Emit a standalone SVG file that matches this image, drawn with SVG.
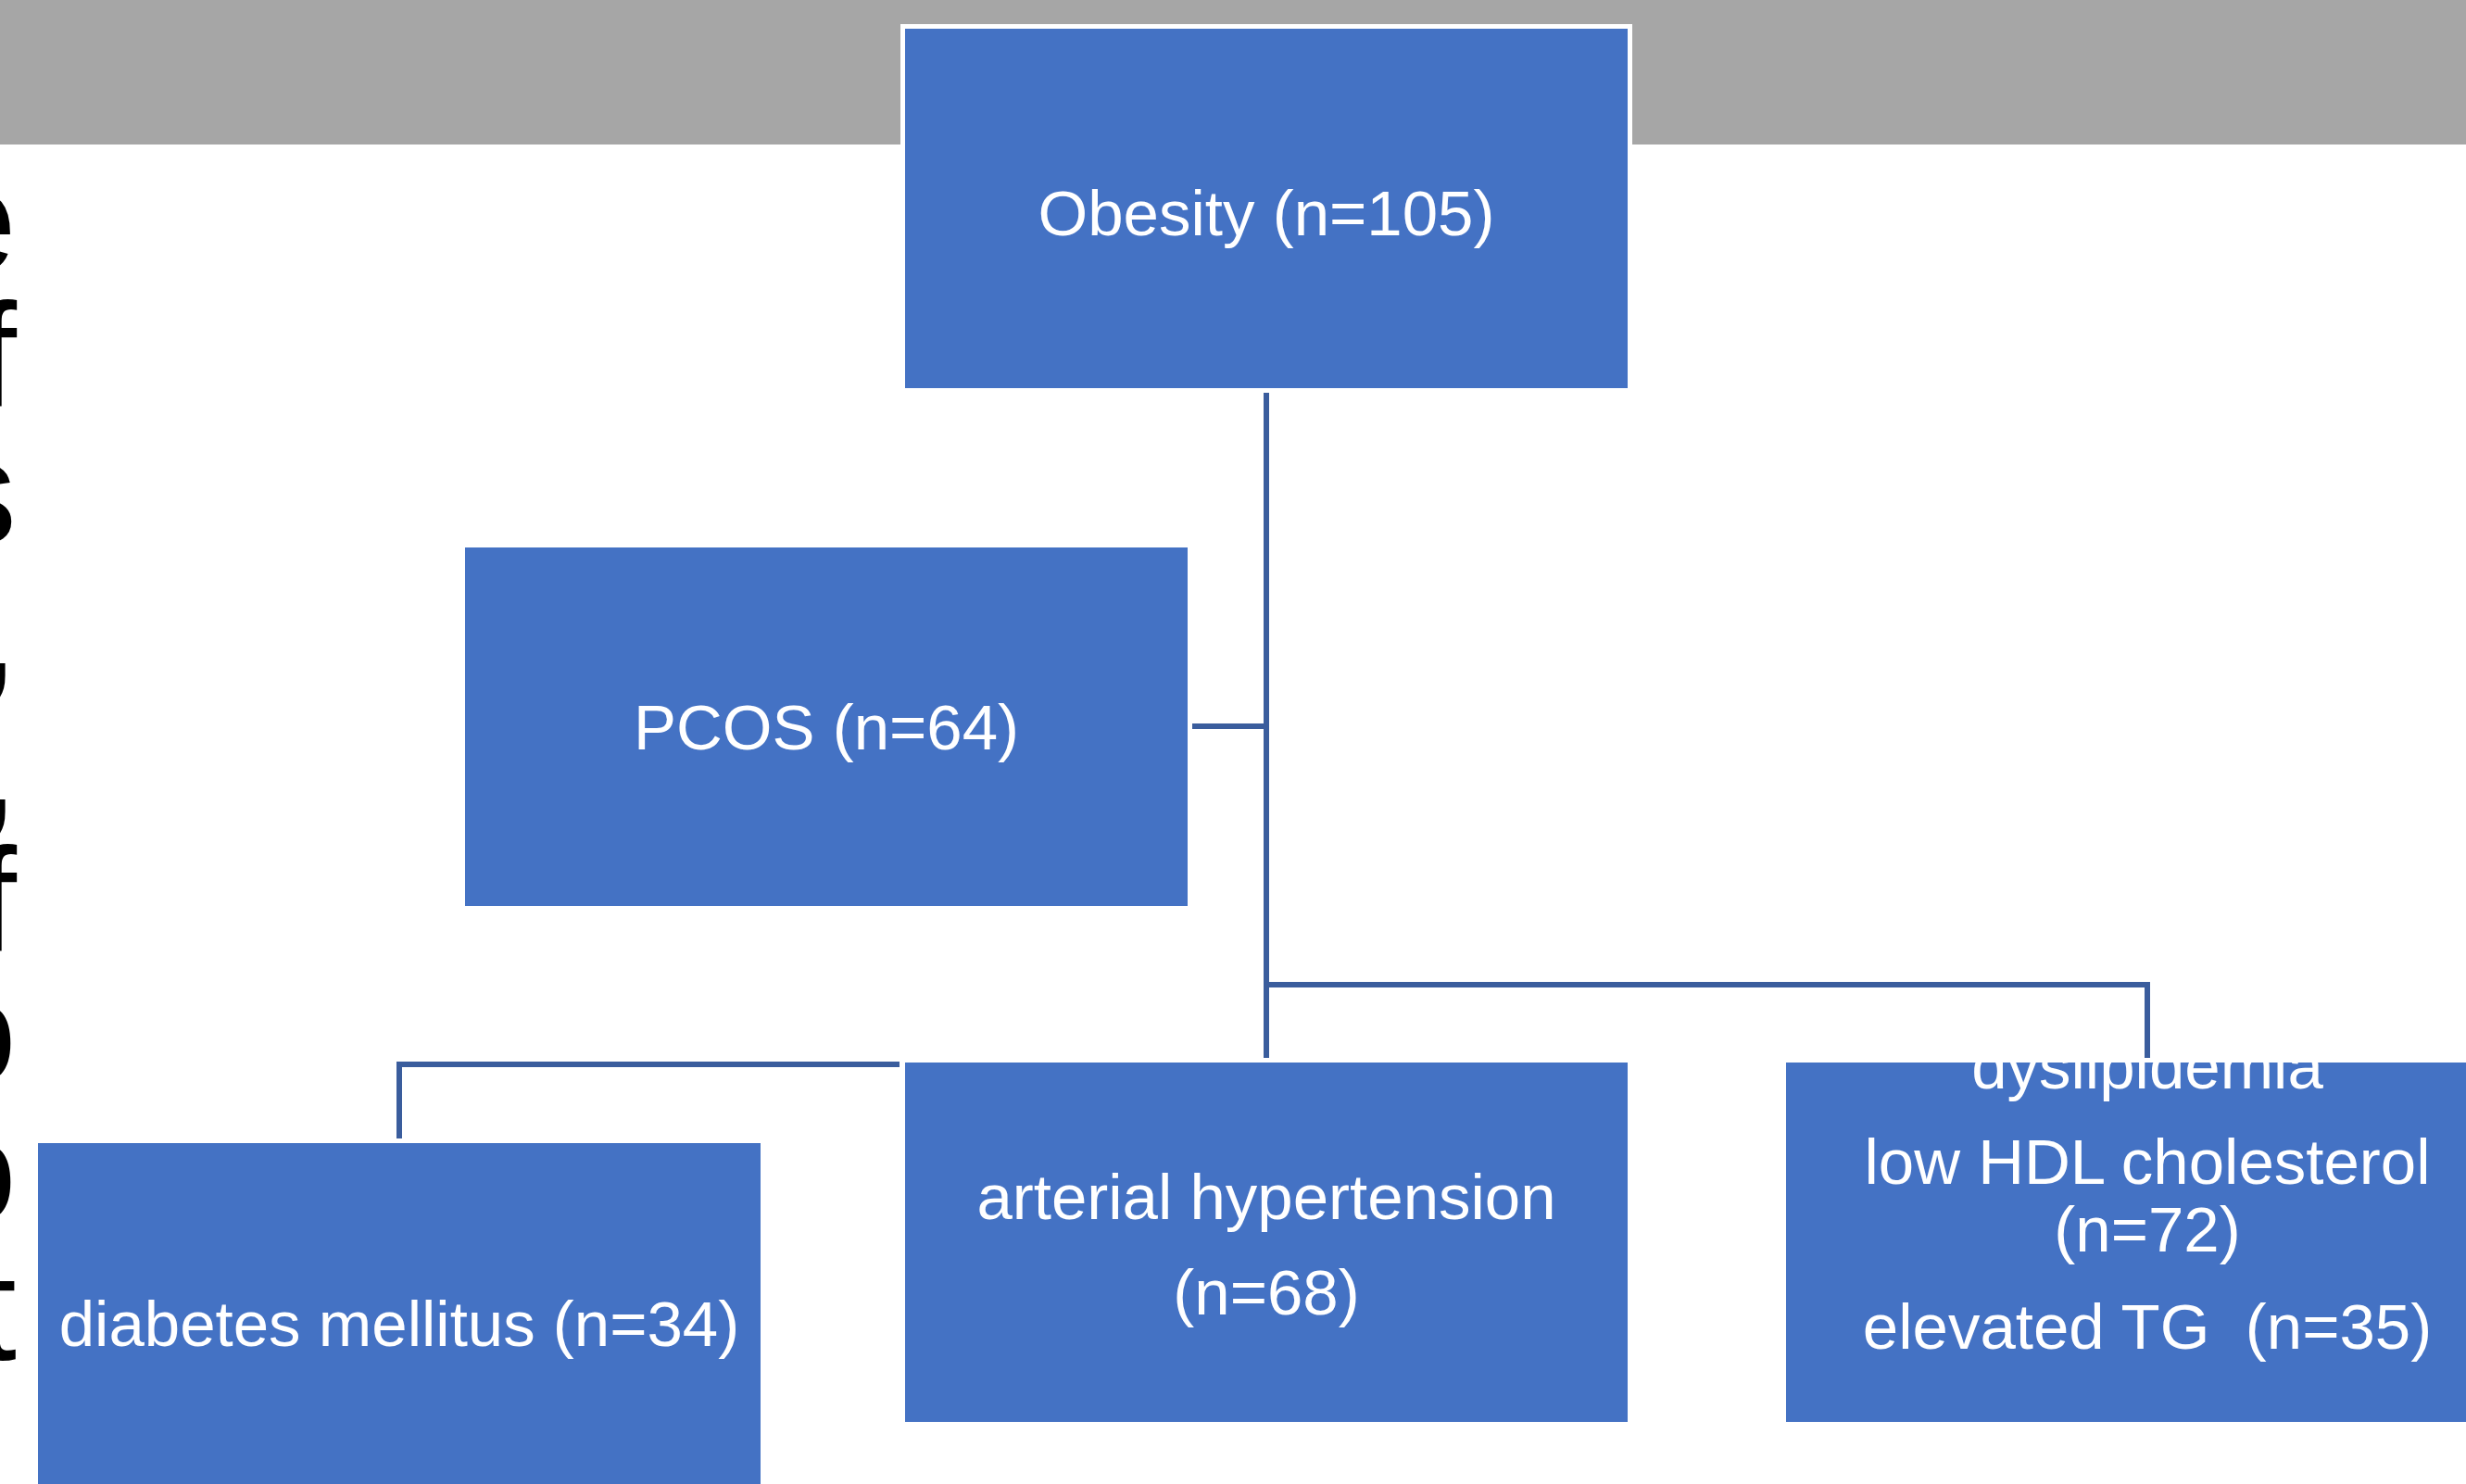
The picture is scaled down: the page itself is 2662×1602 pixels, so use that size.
<svg xmlns="http://www.w3.org/2000/svg" width="2662" height="1602" viewBox="0 0 2662 1602">
<style>
.box{fill:#4472c4;stroke:#ffffff;stroke-width:5}
.lbl{font-family:"Liberation Sans",Arial,Helvetica,sans-serif;font-size:69px;fill:#ffffff;text-anchor:middle}
.edge{fill:none;stroke:#3a5d9d;stroke-width:6;stroke-linejoin:miter}
.side{font-family:"Liberation Sans",Arial,sans-serif;font-size:160px;fill:#000000;text-anchor:end}
</style>
<defs>
<clipPath id="clipDys"><rect x="1928" y="1147" width="780" height="388"/></clipPath>
</defs>
<rect x="0" y="0" width="2662" height="1602" fill="#ffffff"/>
<rect id="band" x="0" y="0" width="2662" height="156" fill="#a6a6a6"/>
<g id="side-text">
<text class="side" x="18" y="292">e</text>
<text class="side" x="18" y="439">f</text>
<text class="side" x="18" y="586">s</text>
<text class="side" x="20" y="733">,</text>
<text class="side" x="20" y="880">,</text>
<text class="side" x="18" y="1027">f</text>
<text class="side" x="18" y="1168">o</text>
<text class="side" x="18" y="1318">o</text>
<text class="side" x="18" y="1468">t</text>
</g>
<g id="connectors">
<path class="edge" d="M1367 424 V1143"/>
<path class="edge" d="M1287 784 H1367"/>
<path class="edge" d="M1367 1063 H2318 V1143"/>
<path class="edge" d="M971 1149 H431 V1229"/>
</g>
<g id="node-obesity">
<rect class="box" x="974.5" y="28.5" width="785" height="393"/>
<text class="lbl" x="1367" y="254">Obesity (n=105)</text>
</g>
<g id="node-pcos">
<rect class="box" x="499.5" y="588.5" width="785" height="392"/>
<text class="lbl" x="892" y="809">PCOS (n=64)</text>
</g>
<g id="node-hypertension">
<rect class="box" x="974.5" y="1144.5" width="785" height="393"/>
<text class="lbl" x="1367" y="1316">arterial hypertension</text>
<text class="lbl" x="1367" y="1419">(n=68)</text>
</g>
<g id="node-diabetes">
<rect class="box" x="38.5" y="1231.5" width="785" height="393"/>
<text class="lbl" x="431" y="1453">diabetes mellitus (n=34)</text>
</g>
<g id="node-dyslipidemia">
<rect class="box" x="1925.5" y="1144.5" width="785" height="393"/>
<g clip-path="url(#clipDys)">
<text class="lbl" x="2318" y="1175">dyslipidemia</text>
<text class="lbl" x="2318" y="1278">low HDL cholesterol</text>
<text class="lbl" x="2318" y="1351">(n=72)</text>
<text class="lbl" x="2318" y="1456" xml:space="preserve">elevated TG  (n=35)</text>
</g>
</g>
</svg>
